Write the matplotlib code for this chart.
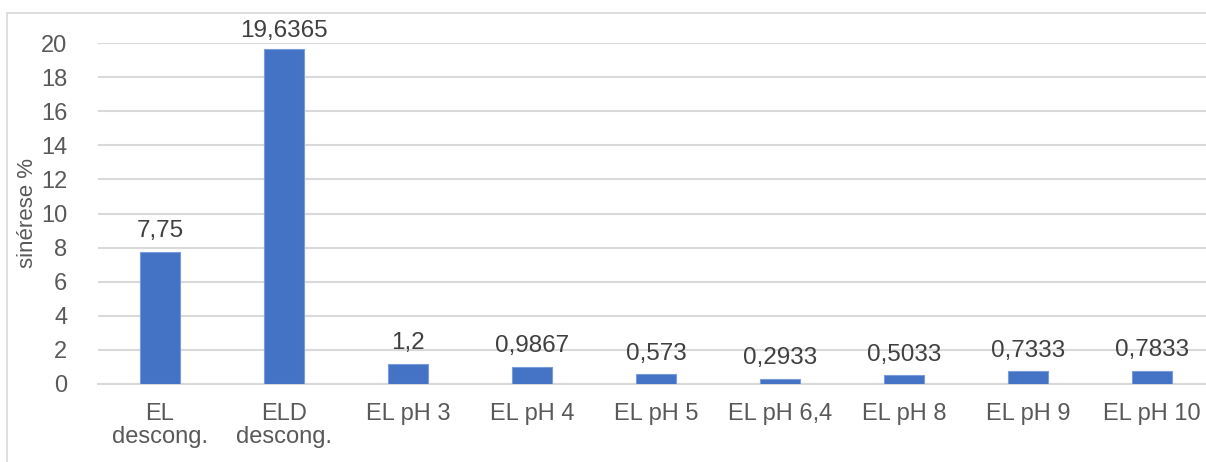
import matplotlib.pyplot as plt
from matplotlib.patches import Rectangle

# -------------------------------
# Data
# -------------------------------
categories = ["EL\ndescong.", "ELD\ndescong.", "EL pH 3", "EL pH 4", "EL pH 5",
              "EL pH 6,4", "EL pH 8", "EL pH 9", "EL pH 10"]
values = [7.75, 19.6365, 1.2, 0.9867, 0.573, 0.2933, 0.5033, 0.7333, 0.7833]
labels = ["7,75", "19,6365", "1,2", "0,9867", "0,573", "0,2933", "0,5033", "0,7333", "0,7833"]
yticks = [0, 2, 4, 6, 8, 10, 12, 14, 16, 18, 20]

# -------------------------------
# Style
# -------------------------------
plt.rcParams["font.family"] = ["Liberation Sans", "DejaVu Sans"]
text_color = "#595959"
grid_color = "#D9D9D9"
bar_color = "#4472C4"

W, H = 1206, 462
fig = plt.figure(figsize=(W / 100, H / 100), dpi=100)

# outer chart border (cropped on right/bottom)
fig.patches.append(Rectangle((7 / W, 0 - 0.05), 1.2, 1 - 13 / H + 0.05,
                             transform=fig.transFigure, fill=False,
                             edgecolor=grid_color, linewidth=1.2))

ax = fig.add_axes([98 / W, 1 - 384 / H, (1214 - 98) / W, (384 - 43) / H])

x = range(len(categories))
bars = ax.bar(x, values, width=0.315, color=bar_color, edgecolor="#7A9CDB",
              linewidth=0.8, zorder=3)
ax.set_xlim(-0.5, len(categories) - 0.5)
ax.set_ylim(0, 20)
ax.set_yticks(yticks)
ax.set_yticklabels([str(t) for t in yticks])
ax.set_xticks(list(x))
ax.set_xticklabels(categories, linespacing=1.05)

ax.grid(axis="y", color=grid_color, linewidth=1.5, zorder=0)
for s in ["top", "right", "left"]:
    ax.spines[s].set_visible(False)
ax.spines["bottom"].set_color(grid_color)
ax.spines["bottom"].set_linewidth(1.5)
ax.tick_params(axis="both", length=0, labelsize=17, colors=text_color)
ax.tick_params(axis="x", pad=14)
ax.tick_params(axis="y", pad=22)

# data labels; keep them inside the chart area like Excel does
renderer = fig.canvas.get_renderer()
top_limit = H - 20  # display pixels (origin bottom)
for b, lab in zip(bars, labels):
    t = ax.annotate(lab, (b.get_x() + b.get_width() / 2, b.get_height()),
                    xytext=(0, 7), textcoords="offset points",
                    ha="center", va="bottom", fontsize=17.5, color="#404040")
    bb = t.get_window_extent(renderer)
    if bb.y1 > top_limit:
        shift = (bb.y1 - top_limit) * 72 / fig.dpi
        t.set_position((0, 7 - shift))

fig.text(28 / W, 1 - 213 / H, "sinérese %", rotation=90, ha="center", va="center",
         fontsize=16, color=text_color)

fig.savefig("out.png", dpi=100)
plt.close(fig)
